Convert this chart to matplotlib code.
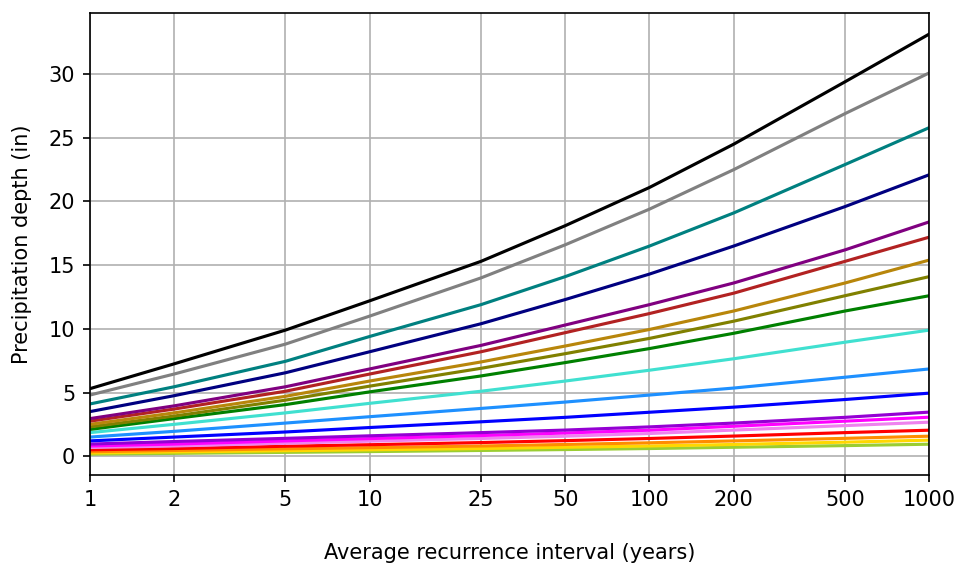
import matplotlib
matplotlib.use('Agg')
import matplotlib.pyplot as plt
from matplotlib.ticker import FixedLocator, FixedFormatter, NullLocator

# average recurrence intervals (years)
ari = [1, 2, 5, 10, 25, 50, 100, 200, 500, 1000]
ari_labels = ['1', '2', '5', '10', '25', '50', '100', '200', '500', '1000']

# precipitation depth (in) per duration, shortest to longest
d_5min = [0.16, 0.22, 0.30, 0.36, 0.45, 0.52, 0.60, 0.70, 0.83, 0.94]
d_10min = [0.25, 0.33, 0.43, 0.50, 0.60, 0.70, 0.80, 0.92, 1.10, 1.26]
d_15min = [0.35, 0.45, 0.58, 0.67, 0.80, 0.92, 1.05, 1.20, 1.40, 1.57]
d_30min = [0.50, 0.60, 0.78, 0.90, 1.07, 1.22, 1.39, 1.58, 1.85, 2.04]
d_60min = [0.68, 0.80, 1.02, 1.18, 1.39, 1.57, 1.78, 2.05, 2.40, 2.67]
d_2hr = [0.80, 0.95, 1.20, 1.38, 1.62, 1.82, 2.04, 2.35, 2.75, 3.06]
d_3hr = [0.95, 1.15, 1.40, 1.60, 1.85, 2.05, 2.30, 2.60, 3.05, 3.46]
d_6hr = [1.20, 1.50, 1.90, 2.25, 2.70, 3.05, 3.45, 3.85, 4.45, 4.95]
d_12hr = [1.50, 1.95, 2.60, 3.10, 3.75, 4.25, 4.80, 5.35, 6.20, 6.85]
d_24hr = [1.85, 2.50, 3.40, 4.15, 5.10, 5.90, 6.75, 7.65, 8.95, 9.90]
d_2day = [2.10, 2.95, 4.05, 5.05, 6.30, 7.35, 8.45, 9.65, 11.4, 12.6]
d_3day = [2.30, 3.15, 4.40, 5.50, 6.90, 8.05, 9.25, 10.6, 12.6, 14.1]
d_4day = [2.50, 3.40, 4.70, 5.90, 7.40, 8.65, 9.95, 11.4, 13.6, 15.4]
d_7day = [2.75, 3.70, 5.10, 6.45, 8.20, 9.70, 11.2, 12.8, 15.3, 17.2]
d_10day = [2.95, 3.95, 5.45, 6.85, 8.70, 10.3, 11.9, 13.6, 16.2, 18.4]
d_20day = [3.50, 4.75, 6.55, 8.20, 10.4, 12.3, 14.3, 16.5, 19.6, 22.1]
d_30day = [4.10, 5.45, 7.45, 9.40, 11.9, 14.1, 16.5, 19.1, 22.9, 25.8]
d_45day = [4.80, 6.45, 8.80, 11.0, 14.0, 16.6, 19.4, 22.5, 26.9, 30.1]
d_60day = [5.30, 7.25, 9.90, 12.2, 15.3, 18.1, 21.1, 24.5, 29.4, 33.15]

series = [d_5min, d_10min, d_15min, d_30min, d_60min, d_2hr, d_3hr, d_6hr,
          d_12hr, d_24hr, d_2day, d_3day, d_4day, d_7day, d_10day, d_20day,
          d_30day, d_45day, d_60day]
colors = ['yellowgreen', 'gold', 'darkorange', 'red', 'violet', 'magenta',
          'darkviolet', 'blue', 'dodgerblue', 'turquoise', 'green', 'olive',
          'darkgoldenrod', 'firebrick', 'purple', 'navy', 'teal', 'gray',
          'black']

fig = plt.figure(figsize=(956 / 150, 567 / 150), dpi=150)
ax = fig.add_axes([0.094, 0.162, 0.878, 0.815])

for vals, c in zip(series, colors):
    ax.plot(ari, vals, color=c, linewidth=1.5)

ax.set_xscale('log')
ax.set_xlim(1, 1000)
ax.xaxis.set_major_locator(FixedLocator(ari))
ax.xaxis.set_major_formatter(FixedFormatter(ari_labels))
ax.xaxis.set_minor_locator(NullLocator())
ax.set_yticks([0, 5, 10, 15, 20, 25, 30])
ax.grid(True)

ax.set_xlabel('Average recurrence interval (years)', labelpad=16)
ax.set_ylabel('Precipitation depth (in)', labelpad=8)

fig.savefig('out.png', dpi=150)
